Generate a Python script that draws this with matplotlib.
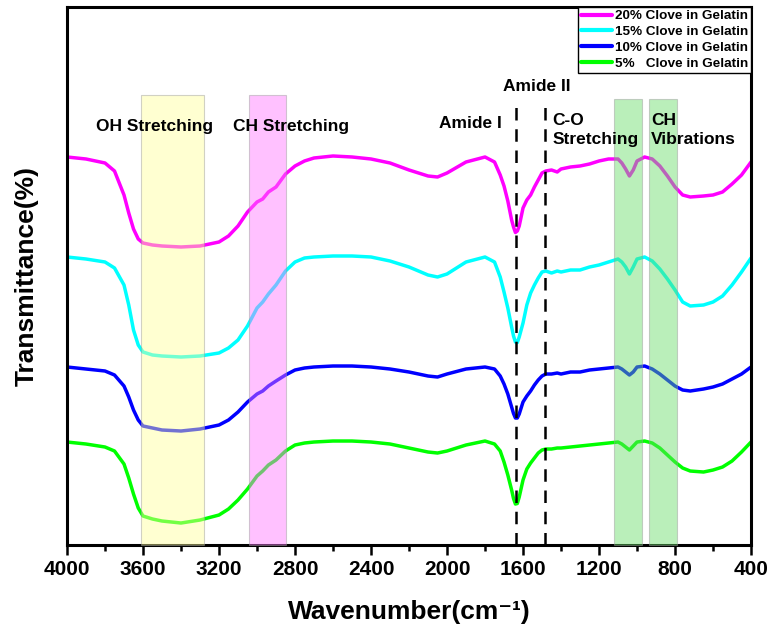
import numpy as np
import matplotlib
matplotlib.use('Agg')
import matplotlib.pyplot as plt
from matplotlib.ticker import MultipleLocator

plt.rcParams['font.family'] = ['Liberation Sans', 'DejaVu Sans']
plt.rcParams['font.weight'] = 'bold'

# Wavenumber grid (cm-1) and transmittance (arbitrary offset units)
wavenumber = [4000, 3900, 3800, 3750, 3700, 3675, 3650, 3625, 3600, 3550,
              3500, 3400, 3300, 3200, 3150, 3100, 3050, 3000, 2970, 2940,
              2900, 2850, 2800, 2750, 2700, 2600, 2500, 2400, 2300, 2200,
              2100, 2050, 2000, 1900, 1800, 1750, 1720, 1700, 1680, 1660,
              1650, 1640, 1630, 1620, 1600, 1580, 1560, 1540, 1520, 1500,
              1480, 1450, 1420, 1400, 1350, 1300, 1250, 1200, 1150, 1100,
              1080, 1060, 1040, 1020, 1000, 960, 920, 880, 840, 800,
              760, 720, 650, 600, 550, 500, 450, 400]

clove20 = [77.6, 77.2, 76.4, 74.8, 70.0, 66.4, 63.2, 61.2, 60.4, 60.0,
           59.8, 59.6, 59.8, 60.6, 61.8, 63.8, 66.6, 68.6, 69.2, 70.6,
           71.6, 74.2, 75.8, 76.8, 77.4, 77.8, 77.6, 77.2, 76.4, 75.0,
           73.8, 73.6, 74.4, 76.6, 77.6, 76.6, 74.0, 71.8, 68.8, 65.0,
           63.6, 62.5, 62.8, 63.8, 67.4, 69.0, 70.0, 71.6, 73.0, 74.4,
           74.8, 75.0, 74.6, 75.2, 75.6, 75.8, 76.2, 76.8, 77.2, 77.2,
           76.4, 75.2, 73.8, 75.0, 76.8, 77.6, 77.2, 75.8, 73.8, 71.6,
           70.0, 69.6, 69.8, 70.0, 70.6, 72.2, 74.0, 76.6]

clove15 = [57.6, 57.2, 56.6, 55.4, 52.0, 48.0, 43.0, 40.0, 38.6, 38.0,
           37.8, 37.6, 37.8, 38.4, 39.4, 41.0, 43.8, 47.4, 48.6, 50.2,
           52.0, 54.8, 56.6, 57.4, 57.6, 57.8, 57.8, 57.6, 56.8, 55.6,
           54.0, 53.6, 54.2, 56.6, 57.6, 56.6, 53.6, 50.6, 47.4, 43.6,
           41.8, 40.6, 40.5, 41.6, 44.4, 48.0, 50.4, 52.0, 53.4, 54.6,
           54.8, 54.4, 54.8, 54.6, 55.0, 55.0, 55.6, 56.0, 56.6, 57.2,
           56.6, 55.6, 54.2, 55.6, 57.2, 57.6, 56.8, 55.2, 53.2, 51.0,
           48.6, 47.8, 48.0, 48.6, 49.8, 52.0, 54.6, 57.4]

clove10 = [35.6, 35.2, 34.8, 34.0, 31.8, 29.6, 27.0, 25.0, 23.8, 23.4,
           23.0, 22.8, 23.2, 24.0, 25.0, 26.6, 28.6, 30.2, 30.8, 31.8,
           32.8, 34.0, 35.0, 35.4, 35.6, 35.8, 35.8, 35.6, 35.2, 34.6,
           33.8, 33.6, 34.2, 35.2, 35.6, 35.2, 33.8, 32.2, 30.2, 27.6,
           26.3, 25.4, 25.4, 26.2, 28.6, 29.8, 30.8, 32.0, 33.0, 33.8,
           34.2, 34.2, 34.4, 34.2, 34.6, 34.6, 35.0, 35.2, 35.4, 35.6,
           35.2, 34.6, 34.0, 34.6, 35.6, 35.8, 35.2, 34.2, 33.0, 31.8,
           31.0, 30.8, 31.2, 31.6, 32.2, 33.2, 34.2, 35.6]

clove5 = [20.6, 20.2, 19.6, 18.8, 16.2, 13.4, 10.2, 7.4, 5.8, 5.2,
          4.8, 4.4, 5.0, 6.0, 7.2, 9.0, 11.2, 13.8, 14.8, 16.0,
          17.0, 18.8, 20.0, 20.4, 20.6, 20.8, 20.8, 20.6, 20.2, 19.4,
          18.6, 18.4, 18.8, 20.0, 20.8, 20.2, 18.8, 16.6, 14.0, 11.0,
          9.3, 8.2, 8.3, 9.6, 13.0, 15.2, 16.4, 17.4, 18.4, 19.0,
          19.2, 19.2, 19.4, 19.4, 19.6, 19.8, 20.0, 20.2, 20.4, 20.6,
          20.2, 19.6, 19.0, 19.8, 20.6, 20.8, 20.4, 19.4, 18.0, 16.6,
          15.4, 14.8, 14.6, 15.0, 15.6, 16.8, 18.6, 20.6]

series_labels = ['20% Clove in Gelatin', '15% Clove in Gelatin',
                 '10% Clove in Gelatin', '5%   Clove in Gelatin']
colors = ['#ff00ff', '#00ffff', '#0000ff', '#00ff00']

# Shaded band regions (cm-1) and dashed amide markers
bands = [(3610, 3280, '#ffff99', 90.0), (3040, 2850, '#ff77ff', 90.0),
         (1120, 975, '#66dd66', 89.2), (935, 790, '#66dd66', 89.2)]
amide_lines = [1635, 1482]

fig = plt.figure(figsize=(7.71, 6.35), dpi=100)
ax = fig.add_axes([0.0869, 0.1417, 0.8872, 0.8473])

for ys, lab, c in zip([clove20, clove15, clove10, clove5], series_labels, colors):
    ax.plot(wavenumber, ys, color=c, lw=2.5, label=lab, zorder=2,
            solid_joinstyle='round', solid_capstyle='round')

for w1, w2, c, top in bands:
    ax.fill_between([w2, w1], 0, top, facecolor=c, alpha=0.45,
                    edgecolor='#999999', lw=0.8, zorder=3)

for w in amide_lines:
    ax.plot([w, w], [0, 88.4], color='black', lw=1.8, ls=(0, (5, 3.5)), zorder=4)

tkw = dict(fontsize=12.5, fontweight='bold', zorder=6)
ax.text(3537, 83.6, 'OH Stretching', ha='center', va='center', **tkw)
ax.text(2821, 83.6, 'CH Stretching', ha='center', va='center', **tkw)
ax.text(1879, 84.2, 'Amide I', ha='center', va='center', **tkw)
ax.text(1530, 91.6, 'Amide II', ha='center', va='center', **tkw)
ax.text(1447, 83.0, 'C-O\nStretching', ha='left', va='center', linespacing=1.3, **tkw)
ax.text(926, 83.0, 'CH\nVibrations', ha='left', va='center', linespacing=1.3, **tkw)

ax.set_xlim(4000, 400)
ax.set_ylim(0, 107.6)
ax.xaxis.set_major_locator(MultipleLocator(400))
ax.xaxis.set_minor_locator(MultipleLocator(200))
ax.set_yticks([])
ax.tick_params(axis='x', which='major', direction='out', length=7, width=1.8,
               labelsize=15, pad=4)
ax.tick_params(axis='x', which='minor', direction='out', length=4, width=1.8)
for lbl in ax.get_xticklabels():
    lbl.set_fontweight('bold')
for sp in ax.spines.values():
    sp.set_linewidth(2.2)

ax.set_xlabel('Wavenumber(cm\u207b\u00b9)', fontsize=19, fontweight='bold', labelpad=15)
ax.set_ylabel('Transmittance(%)', fontsize=19, fontweight='bold', labelpad=20)

leg = ax.legend(loc='upper right', borderaxespad=0.0, fancybox=False,
                framealpha=1, edgecolor='black', handlelength=2.3,
                handletextpad=0.2, labelspacing=0.25, borderpad=0.22,
                prop={'weight': 'bold', 'size': 9.7})
leg.set_zorder(5)
leg.get_frame().set_linewidth(1.0)
for h in leg.get_lines():
    h.set_linewidth(3)

fig.savefig('out.png', dpi=100)
